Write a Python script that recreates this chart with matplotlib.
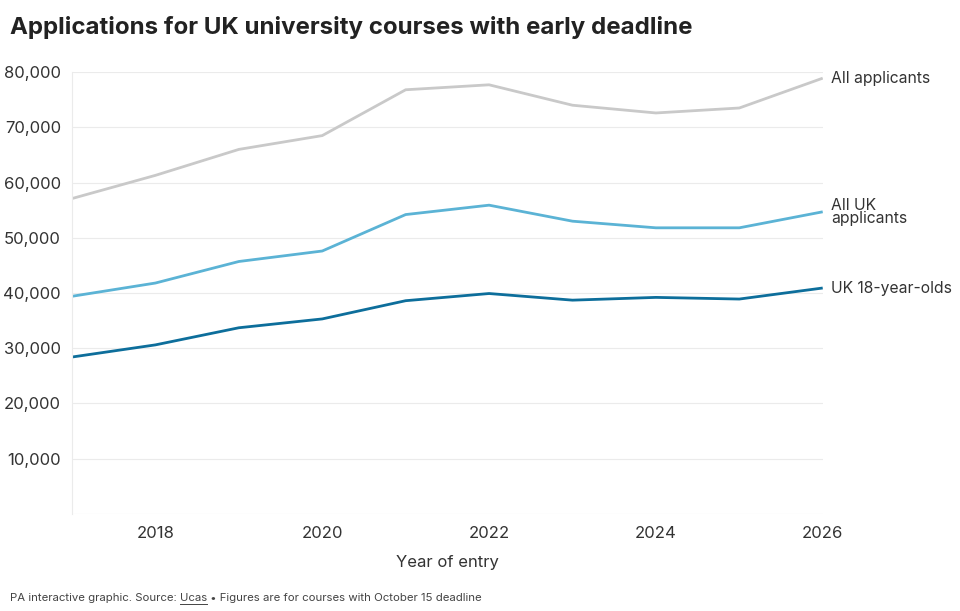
import numpy as np
import matplotlib
matplotlib.use('Agg')
import matplotlib.pyplot as plt

plt.rcParams['font.family'] = ['Inter', 'DejaVu Sans']

""" Data read off the reference chart """
years = [2017, 2018, 2019, 2020, 2021, 2022, 2023, 2024, 2025, 2026]
all_applicants = [57100, 61300, 66000, 68500, 76800, 77700, 74000, 72600, 73500, 78900]
all_uk = [39400, 41800, 45700, 47600, 54200, 55900, 53000, 51800, 51800, 54700]
uk_18 = [28400, 30600, 33700, 35300, 38600, 39900, 38700, 39200, 38900, 40900]

series_names = ['All applicants', 'All UK\napplicants', 'UK 18-year-olds']
series_colors = ['#c9c9c9', '#5bb3d5', '#0d6e9b']

y_ticks = [10000, 20000, 30000, 40000, 50000, 60000, 70000, 80000]
x_ticks = [2018, 2020, 2022, 2024, 2026]

fig = plt.figure(figsize=(9.6, 6.11), dpi=100)
ax = fig.add_axes([0.075, 0.159, 0.782, 0.723])

for vals, name, col in zip([all_applicants, all_uk, uk_18], series_names, series_colors):
    ax.plot(years, vals, color=col, lw=2.0, solid_capstyle='butt')
    ax.text(2026.1, vals[-1], name, color='#333333', fontsize=11.3,
            va='center', ha='left', linespacing=0.85)

ax.set_xlim(2017, 2026)
ax.set_ylim(0, 80000)
ax.set_yticks(y_ticks)
ax.set_yticklabels(['{:,}'.format(v) for v in y_ticks])
ax.set_xticks(x_ticks)
ax.grid(axis='y', color='#ebebeb', lw=0.8)
ax.axhline(0, color='#ebebeb', lw=0.8)
ax.set_axisbelow(True)
for s in ['top', 'right', 'bottom']:
    ax.spines[s].set_visible(False)
ax.spines['left'].set_color('#ebebeb')
ax.tick_params(axis='both', length=0, labelsize=12, colors='#333333')
ax.tick_params(axis='y', pad=8)
ax.tick_params(axis='x', pad=9)
ax.set_xlabel('Year of entry', fontsize=12, color='#333333', labelpad=10)

fig.text(0.010, 0.955, 'Applications for UK university courses with early deadline',
         fontsize=17.3, fontweight='bold', color='#222222', va='center')

# footer, with "Ucas" underlined like a link
renderer = fig.canvas.get_renderer()
parts = ['PA interactive graphic. Source: ', 'Ucas', ' \u2022 Figures are for courses with October 15 deadline']
x0 = 0.010
for i, p in enumerate(parts):
    t = fig.text(x0, 0.017, p, fontsize=8.2, color='#444444', va='baseline')
    bb = t.get_window_extent(renderer)
    if i == 1:
        fig.add_artist(plt.Line2D([x0, x0 + bb.width / 960], [0.012, 0.012],
                                  color='#444444', lw=0.7))
    x0 += bb.width / 960

fig.savefig('out.png', dpi=100)
